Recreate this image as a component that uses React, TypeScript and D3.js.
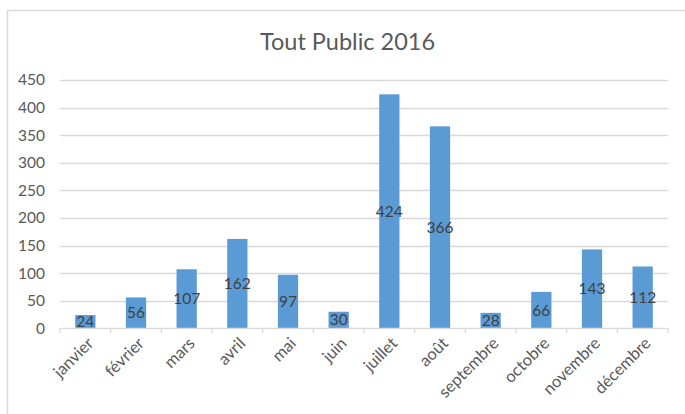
import {useEffect, useRef} from 'react';
import * as d3 from 'd3';

// data
const months = ['janvier', 'février', 'mars', 'avril', 'mai', 'juin', 'juillet', 'août', 'septembre', 'octobre', 'novembre', 'décembre'];
const visitors = [24, 56, 107, 162, 97, 30, 424, 366, 28, 66, 143, 112];
const yTicks = [0, 50, 100, 150, 200, 250, 300, 350, 400, 450];
const title = 'Tout Public 2016';

// parameters
const width = 685;
const height = 414;
const plotLeft = 60;
const plotRight = 668;
const plotTop = 80;
const plotBottom = 328.3;
const barColor = '#5b9bd5';
const gridColor = '#d9d9d9';
const textColor = '#595959';
const font = 'Lato, "Open Sans", sans-serif';

export default function App() {
  const ref = useRef(null);
  useEffect(() => {
    if (!ref.current)
      return;
    const svg = d3.select(ref.current);
    svg.selectAll('*').remove();

    // scales
    const x = d3.scaleBand()
      .domain(months)
      .range([plotLeft, plotRight])
      .paddingInner(0.6)
      .paddingOuter(0.3);
    const y = d3.scaleLinear()
      .domain([0, 450])
      .range([plotBottom, plotTop]);

    // background and frame
    svg.append('rect')
      .attr('width', width)
      .attr('height', height)
      .attr('fill', 'white');
    svg.append('rect')
      .attr('x', 7.5)
      .attr('y', 10.5)
      .attr('width', width + 20)
      .attr('height', height + 20)
      .attr('fill', 'none')
      .attr('stroke', gridColor)
      .attr('stroke-width', 1.5);

    // title
    svg.append('text')
      .attr('x', 347.5)
      .attr('y', 50)
      .attr('text-anchor', 'middle')
      .style('font-family', font)
      .style('font-size', '23.5px')
      .style('fill', textColor)
      .text(title);

    // gridlines
    svg.append('g')
      .selectAll('line')
      .data(yTicks.filter(t => t > 0))
      .enter()
      .append('line')
      .attr('x1', plotLeft)
      .attr('x2', plotRight)
      .attr('y1', d => Math.round(y(d)) + 0.5)
      .attr('y2', d => Math.round(y(d)) + 0.5)
      .attr('stroke', gridColor)
      .attr('stroke-width', 1.3);

    // y axis labels
    svg.append('g')
      .selectAll('text')
      .data(yTicks)
      .enter()
      .append('text')
      .attr('x', 45)
      .attr('y', d => y(d))
      .attr('dy', '0.35em')
      .attr('text-anchor', 'end')
      .style('font-family', font)
      .style('font-size', '15.5px')
      .style('fill', textColor)
      .text(d => d);

    // bars
    svg.append('g')
      .selectAll('rect')
      .data(visitors)
      .enter()
      .append('rect')
      .attr('x', (d, i) => x(months[i])!)
      .attr('y', d => y(d))
      .attr('width', x.bandwidth())
      .attr('height', d => y(0) - y(d))
      .attr('fill', barColor);

    // x axis line and ticks
    const step = x.step();
    const boundaries = d3.range(months.length + 1).map(i => plotLeft + i * step);
    svg.append('line')
      .attr('x1', plotLeft)
      .attr('x2', plotRight)
      .attr('y1', plotBottom)
      .attr('y2', plotBottom)
      .attr('stroke', gridColor)
      .attr('stroke-width', 1.3);
    svg.append('g')
      .selectAll('line')
      .data(boundaries)
      .enter()
      .append('line')
      .attr('x1', d => d)
      .attr('x2', d => d)
      .attr('y1', plotBottom)
      .attr('y2', plotBottom + 5)
      .attr('stroke', gridColor)
      .attr('stroke-width', 1.3);

    // data labels in the middle of bars
    svg.append('g')
      .selectAll('text')
      .data(visitors)
      .enter()
      .append('text')
      .attr('x', (d, i) => x(months[i])! + x.bandwidth() / 2)
      .attr('y', d => (y(d) + y(0)) / 2)
      .attr('dy', '0.35em')
      .attr('text-anchor', 'middle')
      .style('font-family', font)
      .style('font-size', '15.5px')
      .style('fill', '#404040')
      .text(d => d);

    // category labels, rotated
    svg.append('g')
      .selectAll('text')
      .data(months)
      .enter()
      .append('text')
      .attr('transform', d => `translate(${x(d)! + x.bandwidth() / 2 + 5},${plotBottom + 12}) rotate(-45)`)
      .attr('text-anchor', 'end')
      .attr('dy', '0.35em')
      .style('font-family', font)
      .style('font-size', '16.5px')
      .style('fill', textColor)
      .text(d => d);
  }, [ref]);
  return <svg
    ref={ref}
    width={width}
    height={height}
    style={{position: 'absolute', left: 0, top: 0}}
  />;
}
